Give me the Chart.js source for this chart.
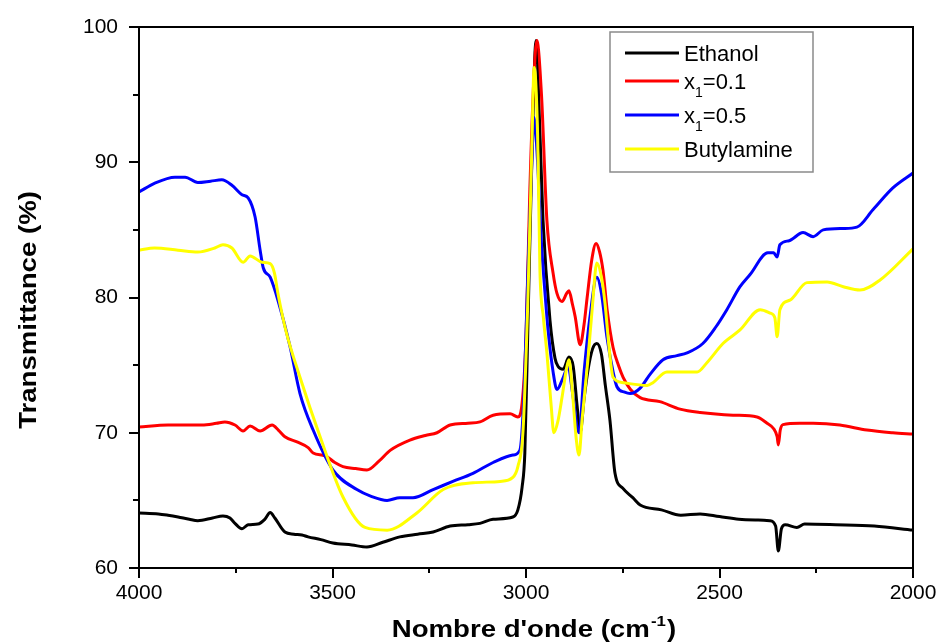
<!DOCTYPE html>
<html>
<head>
<meta charset="utf-8">
<script src="https://cdn.jsdelivr.net/npm/chart.js@4.4.0/dist/chart.umd.min.js"></script>
<style>
  html, body { margin: 0; padding: 0; background: #fff; }
</style>
</head>
<body>
<canvas id="ftirChart" width="941" height="643"></canvas>

<script>
  // FTIR spectra (wavenumber in cm-1, transmittance in %)
  const ethanolX = [
    4000, 3950, 3925, 3899, 3870, 3848, 3810, 3783, 3765, 3752,
    3734, 3718, 3693, 3675, 3661, 3649, 3623, 3600, 3579, 3563,
    3530, 3499, 3450, 3411, 3370, 3326, 3280, 3240, 3196, 3150,
    3119, 3085, 3034, 3021, 3010, 3003, 2995, 2985, 2974, 2965,
    2956, 2938, 2925, 2917, 2904, 2889, 2878, 2868, 2860, 2850,
    2840, 2828, 2817, 2805, 2795, 2783, 2770, 2750, 2724, 2705,
    2650, 2600, 2550, 2500, 2450, 2400, 2370, 2355, 2348, 2340,
    2330, 2300, 2280, 2200, 2100, 2000
  ];
  const ethanolY = [
    64.07, 64.0, 63.9, 63.77, 63.6, 63.5, 63.7, 63.85, 63.7, 63.3,
    62.9, 63.2, 63.25, 63.6, 64.1, 63.7, 62.66, 62.5, 62.44, 62.3,
    62.1, 61.85, 61.7, 61.55, 61.9, 62.3, 62.5, 62.66, 63.1, 63.2,
    63.3, 63.6, 63.77, 64.3, 66.0, 68.5, 78, 90, 99.0, 93,
    85.7, 78.3, 75.5, 74.9, 74.7, 75.6, 74.9, 72.0, 70.0, 72.5,
    74.6, 76.2, 76.6, 75.8, 73.5, 70.9, 67.0, 65.9, 65.2, 64.66,
    64.3, 63.9, 64.0, 63.8, 63.6, 63.55, 63.5, 63.1, 61.26, 62.9,
    63.2, 63.0, 63.25, 63.2, 63.1, 62.8
  ];

  const x01X = [
    4000, 3925, 3837, 3800, 3778, 3752, 3731, 3713, 3687, 3656,
    3640, 3623, 3590, 3563, 3550, 3519, 3494, 3473, 3440, 3411,
    3380, 3351, 3300, 3260, 3230, 3196, 3150, 3119, 3085, 3041,
    3021, 3010, 3000, 2990, 2980, 2972, 2960, 2946, 2930, 2920,
    2907, 2895, 2889, 2880, 2873, 2860, 2850, 2842, 2830, 2819,
    2810, 2801, 2790, 2775, 2760, 2749, 2730, 2705, 2654, 2602,
    2550, 2465, 2403, 2377, 2360, 2351, 2348, 2343, 2336, 2292,
    2258, 2189, 2119, 2052, 2000
  ];
  const x01Y = [
    70.43, 70.57, 70.57, 70.7, 70.8, 70.57, 70.13, 70.5, 70.13, 70.57,
    70.2, 69.7, 69.3, 68.9, 68.5, 68.3, 67.8, 67.5, 67.35, 67.25,
    67.9, 68.7, 69.46, 69.8, 70.0, 70.57, 70.7, 70.8, 71.3, 71.4,
    71.17, 72.2, 77, 88, 96, 99.0, 95, 85.7, 81.8, 80.3,
    79.7, 80.3, 80.5, 79.5, 78.6, 76.5, 78.0, 80.0, 82.8, 84.0,
    83.4, 82.0, 79.0, 76.3, 74.9, 74.1, 73.2, 72.6, 72.3, 71.75,
    71.5, 71.3, 71.17, 70.7, 70.3, 69.7, 69.1, 70.2, 70.6, 70.7,
    70.7, 70.57, 70.2, 70.0, 69.9
  ];

  const x05X = [
    4000, 3959, 3907, 3881, 3848, 3815, 3786, 3760, 3734, 3718,
    3700, 3687, 3679, 3661, 3641, 3610, 3584, 3550, 3499, 3437,
    3400, 3359, 3326, 3292, 3240, 3189, 3137, 3085, 3034, 3016,
    3005, 2995, 2985, 2979, 2970, 2960, 2950, 2943, 2930, 2920,
    2905, 2891, 2880, 2863, 2850, 2835, 2817, 2805, 2791, 2775,
    2765, 2745, 2731, 2705, 2680, 2646, 2610, 2584, 2543, 2510,
    2481, 2447, 2421, 2375, 2360, 2351, 2344, 2320, 2284, 2258,
    2232, 2180, 2145, 2103, 2052, 2000
  ];
  const x05Y = [
    87.8, 88.46, 88.9, 88.9, 88.5, 88.6, 88.7, 88.3, 87.6, 87.36,
    85.95, 83.5, 82.2, 81.5, 79.8, 76.4, 72.9, 70.2, 67.25, 65.8,
    65.3, 65.0, 65.2, 65.2, 65.8, 66.4, 67.0, 67.8, 68.35, 68.7,
    73, 82, 90, 93.3, 90, 84, 80, 77.6, 74.5, 73.2,
    74.0, 74.9, 73.0, 70.0, 74.5, 78.5, 81.5, 80.3, 77.1, 74.5,
    73.4, 73.0, 72.9, 73.3, 74.3, 75.4, 75.7, 75.9, 76.6, 77.8,
    79.1, 80.8, 81.7, 83.3, 83.3, 83.0, 83.9, 84.2, 84.8, 84.5,
    85.0, 85.1, 85.2, 86.5, 88.1, 89.2
  ];

  const butylX = [
    4000, 3960, 3899, 3848, 3804, 3783, 3760, 3731, 3713, 3682,
    3661, 3650, 3641, 3620, 3584, 3532, 3473, 3416, 3359, 3282,
    3214, 3137, 3067, 3034, 3021, 3008, 2995, 2985, 2979, 2970,
    2964, 2955, 2946, 2935, 2928, 2918, 2907, 2895, 2889, 2880,
    2870, 2863, 2855, 2840, 2828, 2817, 2805, 2796, 2785, 2775,
    2749, 2687, 2672, 2636, 2558, 2532, 2491, 2447, 2395, 2369,
    2357, 2351, 2344, 2318, 2274, 2222, 2180, 2137, 2085, 2000
  ];
  const butylY = [
    83.5, 83.66, 83.5, 83.36, 83.66, 83.9, 83.66, 82.6, 83.07, 82.6,
    82.5, 81.8, 80.3, 77.5, 74.1, 69.7, 65.25, 63.0, 62.8, 64.07,
    65.8, 66.3, 66.4, 66.7, 67.5, 70.0, 80, 91, 97.0, 92,
    82.0, 78.5, 75.9, 72, 70.0, 70.8, 72.6, 74.8, 75.4, 73,
    69.5, 68.35, 71, 75.4, 79.5, 82.55, 81.5, 79.6, 76.2, 74.1,
    73.7, 73.5, 73.7, 74.5, 74.5, 75.2, 76.6, 77.6, 79.1, 78.85,
    78.5, 77.1, 79.1, 79.8, 81.1, 81.15, 80.8, 80.55, 81.3, 83.6
  ];

  // "_1" marks a subscript 1 in the legend
  const seriesLabels = ['Ethanol', 'x_1=0.1', 'x_1=0.5', 'Butylamine'];
  const seriesColors = ['#000000', '#ff0000', '#0000ff', '#ffff00'];

  const xMin = 2000, xMax = 4000, xStep = 500, xMinorStep = 250;
  const yMin = 60, yMax = 100, yStep = 10, yMinorStep = 5;

  const yTitle = 'Transmittance (%)';
  const xTitle = "Nombre d'onde (cm";
  const xTitleSup = '-1';
  const xTitleEnd = ')';

  function toPoints(xs, ys) {
    return xs.map((x, i) => ({ x: x, y: ys[i] }));
  }

  // frame, ticks (major + minor) and the axis titles
  const frameAndTicks = {
    id: 'frameAndTicks',
    afterDraw(chart) {
      const { ctx, chartArea: a, scales: { x, y } } = chart;
      ctx.save();
      ctx.strokeStyle = '#000';
      ctx.lineWidth = 2;
      ctx.strokeRect(a.left, a.top, a.right - a.left, a.bottom - a.top);

      ctx.beginPath();
      for (let v = xMin; v <= xMax; v += xMinorStep) {
        const px = Math.round(x.getPixelForValue(v));
        const len = v % xStep === 0 ? 10 : 5;
        ctx.moveTo(px, a.bottom);
        ctx.lineTo(px, a.bottom + len);
      }
      for (let v = yMin; v <= yMax; v += yMinorStep) {
        const py = Math.round(y.getPixelForValue(v));
        const len = v % yStep === 0 ? 10 : 6;
        ctx.moveTo(a.left, py);
        ctx.lineTo(a.left - len, py);
      }
      ctx.stroke();

      // axis titles, slightly stretched along the text like the original
      const stretch = 1.2;
      ctx.fillStyle = '#000';
      ctx.textBaseline = 'alphabetic';
      ctx.textAlign = 'left';

      ctx.font = 'bold 23px Arial, "Liberation Sans"';
      const w1 = ctx.measureText(xTitle).width;
      const w3 = ctx.measureText(xTitleEnd).width;
      ctx.font = 'bold 14px Arial, "Liberation Sans"';
      const w2 = ctx.measureText(xTitleSup).width;
      const total = (w1 + w2 + w3 + 2) * stretch;
      const cx = (a.left + a.right) / 2 + 8;
      ctx.save();
      ctx.translate(cx - total / 2, 637);
      ctx.scale(stretch, 1);
      ctx.font = 'bold 23px Arial, "Liberation Sans"';
      ctx.fillText(xTitle, 0, 0);
      ctx.font = 'bold 14px Arial, "Liberation Sans"';
      ctx.fillText(xTitleSup, w1 + 1, -11);
      ctx.font = 'bold 23px Arial, "Liberation Sans"';
      ctx.fillText(xTitleEnd, w1 + w2 + 2, 0);
      ctx.restore();

      ctx.save();
      ctx.translate(36, 310);
      ctx.rotate(-Math.PI / 2);
      ctx.scale(stretch, 1);
      ctx.font = 'bold 23px Arial, "Liberation Sans"';
      ctx.textAlign = 'center';
      ctx.fillText(yTitle, 0, 0);
      ctx.restore();

      ctx.restore();
    }
  };

  // boxed legend with subscripts
  const legendBox = {
    id: 'legendBox',
    afterDraw(chart) {
      const ctx = chart.ctx;
      const boxL = 610, boxT = 32, boxR = 813, boxB = 172;
      const rowY = [53, 81, 115, 149];
      ctx.save();
      ctx.fillStyle = '#fff';
      ctx.fillRect(boxL, boxT, boxR - boxL, boxB - boxT);
      ctx.strokeStyle = '#8a8a8a';
      ctx.lineWidth = 1.5;
      ctx.strokeRect(boxL, boxT, boxR - boxL, boxB - boxT);

      chart.data.datasets.forEach((ds, i) => {
        const yy = rowY[i];
        ctx.strokeStyle = ds.borderColor;
        ctx.lineWidth = 3;
        ctx.beginPath();
        ctx.moveTo(625, yy);
        ctx.lineTo(679, yy);
        ctx.stroke();

        ctx.fillStyle = '#000';
        ctx.textBaseline = 'alphabetic';
        ctx.textAlign = 'left';
        let tx = 684;
        const parts = ds.label.split('_');
        ctx.font = '22px Arial, "Liberation Sans"';
        ctx.fillText(parts[0], tx, yy + 8);
        tx += ctx.measureText(parts[0]).width;
        if (parts.length > 1) {
          const sub = parts[1].charAt(0);
          const rest = parts[1].slice(1);
          ctx.font = '14px Arial, "Liberation Sans"';
          ctx.fillText(sub, tx, yy + 16);
          tx += ctx.measureText(sub).width;
          ctx.font = '22px Arial, "Liberation Sans"';
          ctx.fillText(rest, tx, yy + 8);
        }
      });
      ctx.restore();
    }
  };

  const seriesX = [ethanolX, x01X, x05X, butylX];
  const seriesY = [ethanolY, x01Y, x05Y, butylY];

  const ctx = document.getElementById('ftirChart').getContext('2d');
  new Chart(ctx, {
    type: 'line',
    data: {
      datasets: seriesLabels.map((label, i) => ({
        label: label,
        data: toPoints(seriesX[i], seriesY[i]),
        borderColor: seriesColors[i],
        backgroundColor: seriesColors[i],
        borderWidth: 3,
        pointRadius: 0,
        fill: false,
        cubicInterpolationMode: 'monotone',
        order: 4 - i
      }))
    },
    options: {
      responsive: false,
      animation: false,
      layout: { padding: { top: 27, right: 28, left: 0, bottom: 0 } },
      plugins: {
        legend: { display: false },
        tooltip: { enabled: false }
      },
      scales: {
        x: {
          type: 'linear',
          reverse: true,
          min: xMin,
          max: xMax,
          grid: { display: false, drawTicks: false },
          border: { display: false },
          ticks: {
            stepSize: xStep,
            color: '#000',
            padding: 13,
            maxRotation: 0,
            font: { family: 'Arial, "Liberation Sans"', size: 21 },
            callback: (v) => String(v)
          },
          afterFit(scale) {
            scale.height = 75;
            scale.paddingLeft = 0;
            scale.paddingRight = 0;
          }
        },
        y: {
          min: yMin,
          max: yMax,
          grid: { display: false, drawTicks: false },
          border: { display: false },
          ticks: {
            stepSize: yStep,
            color: '#000',
            padding: 21,
            font: { family: 'Arial, "Liberation Sans"', size: 21 },
            callback: (v) => String(v)
          },
          afterFit(scale) {
            scale.width = 139;
            scale.paddingTop = 0;
            scale.paddingBottom = 0;
          }
        }
      }
    },
    plugins: [frameAndTicks, legendBox]
  });
</script>
</body>
</html>
